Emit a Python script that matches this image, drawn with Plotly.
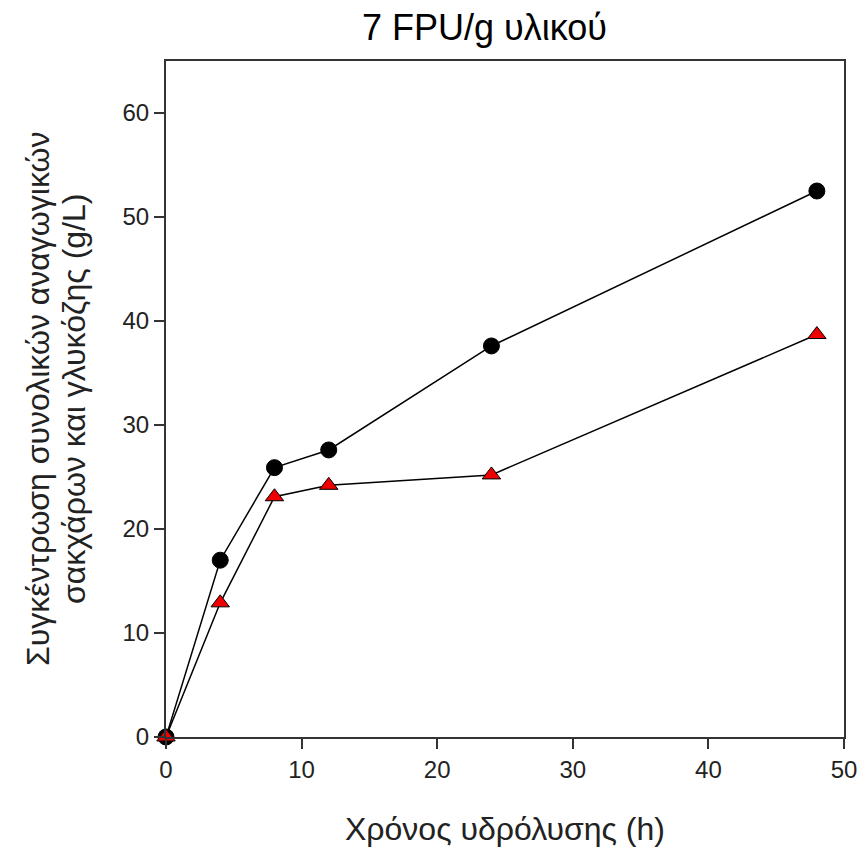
import plotly.graph_objects as go

time_h = [0, 4, 8, 12, 24, 48]
total_reducing_sugars = [0, 17.0, 25.9, 27.6, 37.6, 52.5]
glucose = [0, 12.9, 23.1, 24.2, 25.2, 38.7]

x_ticks = [0, 10, 20, 30, 40, 50]
y_ticks = [0, 10, 20, 30, 40, 50, 60]

FONT = "Liberation Sans, Arial, sans-serif"
TXT = "#222222"

fig = go.Figure()
fig.add_trace(go.Scatter(
    x=time_h, y=total_reducing_sugars, mode="lines+markers",
    line=dict(color="black", width=1.5),
    marker=dict(symbol="circle", size=16, color="black",
                line=dict(color="black", width=1)),
    cliponaxis=False, showlegend=False))
fig.add_trace(go.Scatter(
    x=time_h, y=glucose, mode="lines+markers",
    line=dict(color="black", width=1.5),
    marker=dict(symbol="triangle-up", size=16, color="#ee0000",
                line=dict(color="black", width=1)),
    cliponaxis=False, showlegend=False))

axis_common = dict(showgrid=False, zeroline=False, showline=True,
                   linecolor="#333333", linewidth=2, mirror=True,
                   ticks="outside", ticklen=10, tickwidth=2, tickcolor="#333333",
                   automargin=False,
                   tickfont=dict(family=FONT, size=24, color=TXT))

fig.update_xaxes(range=[0, 50], tickvals=x_ticks, **axis_common)
fig.update_yaxes(range=[0, 65], tickvals=y_ticks, **axis_common)

fig.add_annotation(text="7 FPU/g υλικού", xref="paper", yref="paper",
                   x=0.4705, y=1.0, xanchor="center", yanchor="middle",
                   yshift=34, showarrow=False,
                   font=dict(family=FONT, size=36, color="black"))
fig.add_annotation(text="Χρόνος υδρόλυσης (h)", xref="paper", yref="paper",
                   x=0.5, y=0, xanchor="center", yanchor="middle",
                   yshift=-92, showarrow=False,
                   font=dict(family=FONT, size=32, color=TXT))
fig.add_annotation(text="Συγκέντρωση συνολικών αναγωγικών",
                   xref="paper", yref="paper", x=0, y=0.5,
                   xanchor="center", yanchor="middle", xshift=-128,
                   textangle=-90, showarrow=False,
                   font=dict(family=FONT, size=32, color=TXT))
fig.add_annotation(text="σακχάρων και γλυκόζης (g/L)",
                   xref="paper", yref="paper", x=0, y=0.5,
                   xanchor="center", yanchor="middle", xshift=-92,
                   textangle=-90, showarrow=False,
                   font=dict(family=FONT, size=32, color=TXT))

fig.update_layout(width=857, height=843, margin=dict(l=158, r=21, t=53, b=114),
                  plot_bgcolor="white", paper_bgcolor="white")

fig.write_html("out.html")
